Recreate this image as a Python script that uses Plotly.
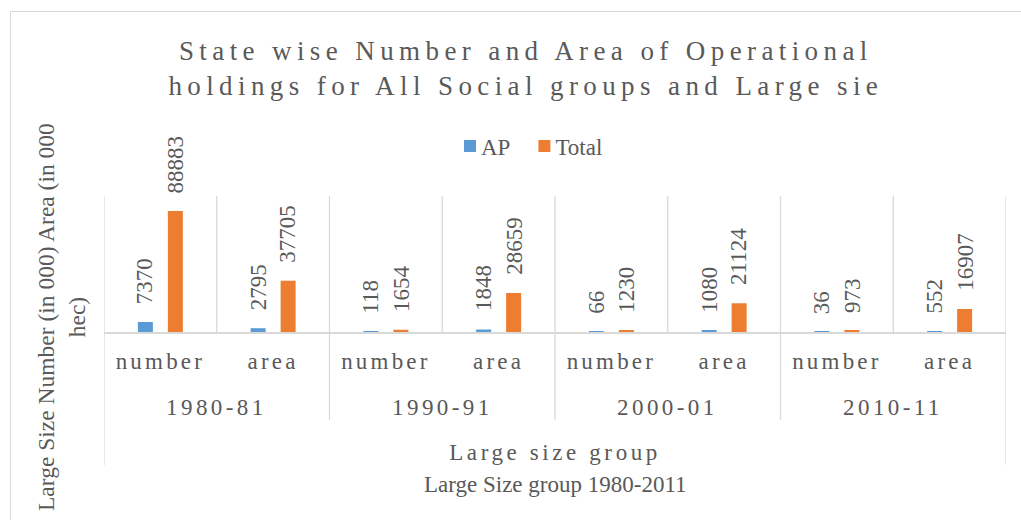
import json
import numpy as np
import plotly.graph_objects as go

# ---- data ----
years = ["1980-81", "1990-91", "2000-01", "2010-11"]
measures = ["number", "area"]
ap_values = [7370, 2795, 118, 1848, 66, 1080, 36, 552]
total_values = [88883, 37705, 1654, 28659, 1230, 21124, 973, 16907]

title_text = "State wise Number and Area of Operational<br>holdings for All Social groups and Large sie"
y_title = "Large Size Number (in 000) Area (in 000<br>hec)"
x_title = "Large size group"
x_subtitle = "Large Size group 1980-2011"

# ---- layout geometry (pixels) ----
W, H = 1021, 520
PL, PR, PT, PB = 104, 1006, 196, 332  # plot area edges
plot_w, plot_h = PR - PL, PB - PT


def px_x(px):
    return (px - PL) / plot_w


def px_y(py):
    return (PB - py) / plot_h


FONT = "Liberation Serif"
TXT = "#595959"
GRID = "#D9D9D9"
BLUE = "#5B9BD5"
ORANGE = "#ED7D31"

n_cat = len(years) * len(measures)
xi = np.arange(n_cat)
cat_labels = measures * len(years)
half = 0.133  # half distance between the two bars of a category

fig = go.Figure()
fig.add_trace(go.Bar(x=xi, y=ap_values, name="AP", marker=dict(color=BLUE, line=dict(width=0))))
fig.add_trace(go.Bar(x=xi, y=total_values, name="Total", marker=dict(color=ORANGE, line=dict(width=0))))

annotations = []
# value labels above each bar
for i in range(n_cat):
    for val, dx in ((ap_values[i], -half), (total_values[i], half)):
        annotations.append(dict(
            x=xi[i] + dx, y=val, xref="x", yref="y", text=str(val),
            textangle=-90, xanchor="center", yanchor="bottom", yshift=16,
            showarrow=False, font=dict(family=FONT, size=23, color=TXT)))

# year (outer category) labels
for k, yr in enumerate(years):
    annotations.append(dict(
        x=2 * k + 0.5, y=px_y(407), xref="x", yref="paper", text=yr,
        xanchor="center", yanchor="middle", showarrow=False,
        font=dict(family=FONT, size=23, color=TXT)))

# axis titles
annotations.append(dict(
    x=0.5, y=px_y(452), xref="paper", yref="paper", text=x_title,
    xanchor="center", yanchor="middle", showarrow=False,
    font=dict(family=FONT, size=23, color=TXT)))
annotations.append(dict(
    x=0.5, y=px_y(484), xref="paper", yref="paper", text=x_subtitle,
    xanchor="center", yanchor="middle", showarrow=False,
    font=dict(family=FONT, size=23, color=TXT)))
annotations.append(dict(
    x=px_x(61), y=px_y(317), xref="paper", yref="paper", text=y_title,
    textangle=-90, xanchor="center", yanchor="middle", align="center", showarrow=False,
    font=dict(family=FONT, size=23.5, color=TXT)))

# category separators
shapes = []
for k in range(n_cat + 1):
    if k in (0, n_cat):
        y0 = px_y(465)
    elif k % 2 == 0:
        y0 = px_y(420)
    else:
        y0 = 0
    shapes.append(dict(type="line", xref="x", yref="paper", x0=k - 0.5, x1=k - 0.5,
                       y0=y0, y1=1, line=dict(color=GRID, width=1.3), layer="below"))

# chart border
shapes.append(dict(type="rect", xref="paper", yref="paper",
                   x0=px_x(10.5), x1=px_x(W + 20), y0=px_y(H + 20), y1=px_y(11.5),
                   line=dict(color=GRID, width=1), fillcolor="rgba(0,0,0,0)", layer="below"))

fig.update_layout(
    width=W, height=H, autosize=False,
    margin=dict(l=PL, r=W - PR, t=PT, b=H - PB, pad=0),
    paper_bgcolor="white", plot_bgcolor="white",
    barmode="group", bargap=0.468, bargroupgap=0.5,
    title=dict(text=title_text, x=0.515, xanchor="center", y=1 - 60 / H, yanchor="top",
               font=dict(family=FONT, size=27, color=TXT)),
    legend=dict(orientation="h", x=px_x(450), xanchor="left", y=px_y(146), yanchor="middle",
                font=dict(family=FONT, size=23, color=TXT), bgcolor="rgba(0,0,0,0)"),
    xaxis=dict(range=[-0.5, n_cat - 0.5], tickvals=xi, ticktext=cat_labels,
               tickfont=dict(family=FONT, size=23, color=TXT), ticks="",
               showgrid=False, zeroline=False, showline=True, linecolor=GRID, linewidth=1.5,
               ticklabelstandoff=8, fixedrange=True),
    yaxis=dict(range=[0, 100000], visible=False, fixedrange=True),
    annotations=annotations, shapes=shapes,
    font=dict(family=FONT, color=TXT),
)

# letter spacing for the spaced-out labels; legend text pulled closer to its swatch
spaced = {t: "3.4px" for t in years}
spaced[x_title] = "3.6px"
post_js = """
var gd = document.getElementById('{plot_id}');
var spaced = %s;
function applySpacing() {
  gd.querySelectorAll('.gtitle').forEach(function(e){ e.style.letterSpacing = '5.4px'; });
  gd.querySelectorAll('.xtick text').forEach(function(e){ e.style.letterSpacing = '3.2px'; });
  gd.querySelectorAll('.annotation-text').forEach(function(e){
    if (spaced[e.textContent]) { e.style.letterSpacing = spaced[e.textContent]; }
  });
  gd.querySelectorAll('.legendtext').forEach(function(e){ e.setAttribute('x', 31); });
}
applySpacing();
gd.on('plotly_afterplot', applySpacing);
""" % json.dumps(spaced)

fig.write_html("out.html", post_script=post_js, config={"displayModeBar": False})
